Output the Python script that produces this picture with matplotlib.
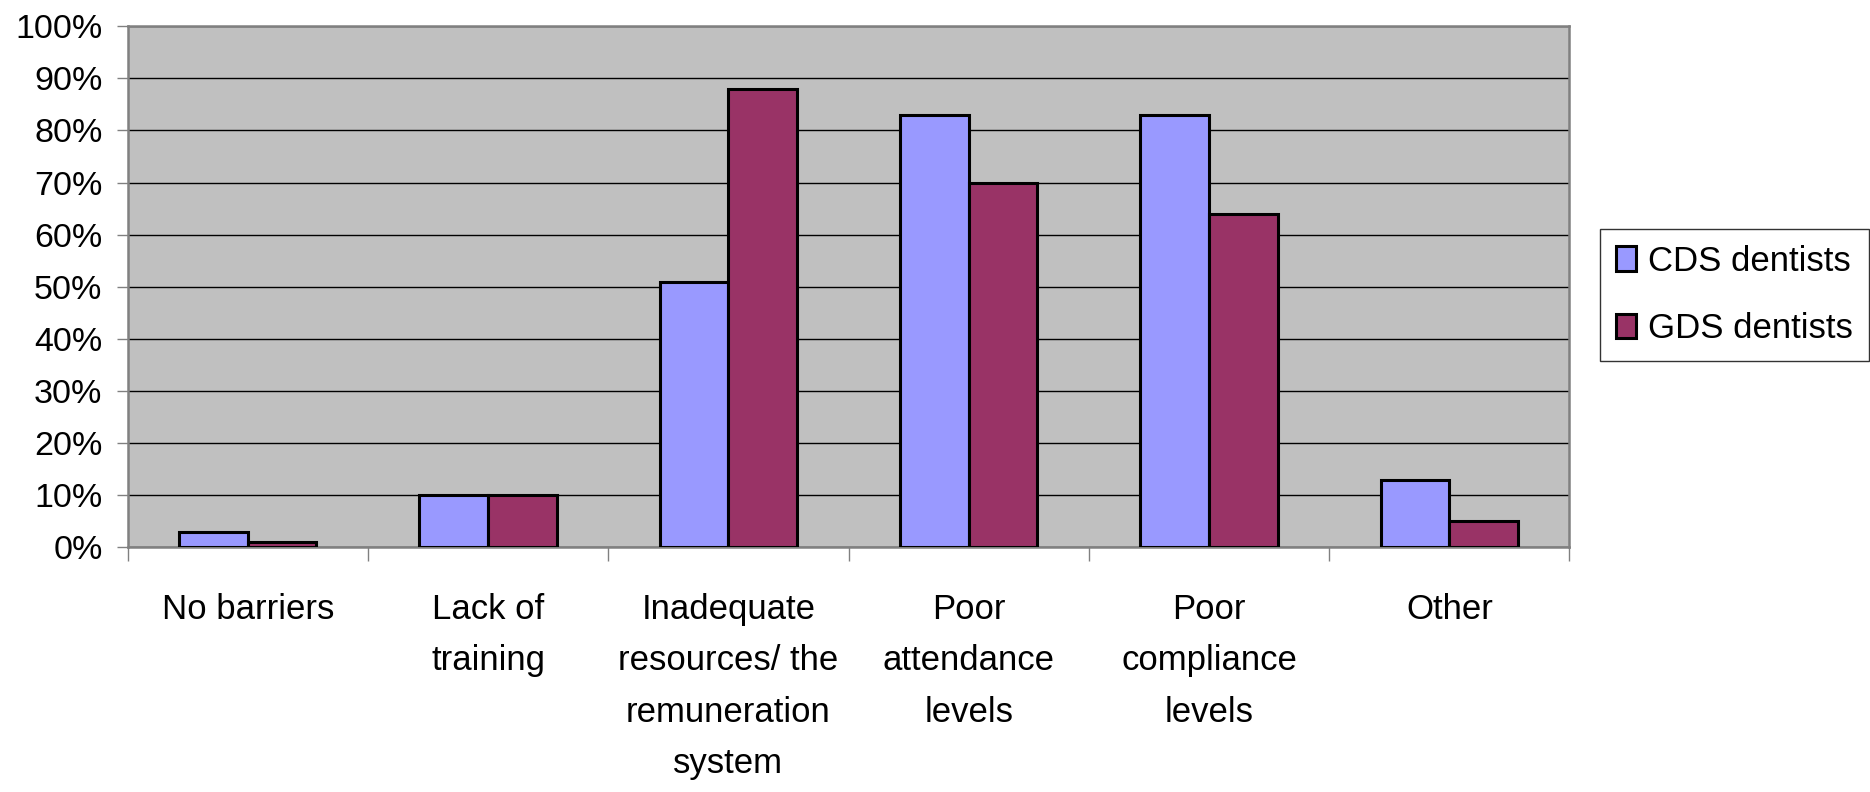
import numpy as np
import matplotlib
matplotlib.use("Agg")
import matplotlib.pyplot as plt
from matplotlib import font_manager

categories = ["No barriers", "Lack of\ntraining", "Inadequate\nresources/ the\nremuneration\nsystem",
              "Poor\nattendance\nlevels", "Poor\ncompliance\nlevels", "Other"]
cds = [3, 10, 51, 83, 83, 13]
gds = [1, 10, 88, 70, 64, 5]
series_names = ["CDS dentists", "GDS dentists"]
yticks = [0, 10, 20, 30, 40, 50, 60, 70, 80, 90, 100]

C = {"cds": "#9999FF", "gds": "#993366", "bg": "#C0C0C0", "frame": "#808080"}
FONT = "Liberation Sans"

fig = plt.figure(figsize=(18.7, 7.92), dpi=100)
ax = fig.add_axes([0.0682, 0.3088, 0.8393 - 0.0682, 0.967 - 0.3088])
ax.set_facecolor(C["bg"])

x = np.arange(len(categories))
w = 1 / 3.5  # excel gap width 150%
ax.bar(x - w / 2, cds, w, color=C["cds"], edgecolor="black", linewidth=2.2, label=series_names[0], zorder=3)
ax.bar(x + w / 2, gds, w, color=C["gds"], edgecolor="black", linewidth=2.2, label=series_names[1], zorder=3)

ax.set_xlim(-0.5, len(categories) - 0.5)
ax.set_ylim(0, 100)
ax.set_yticks(yticks)
ax.set_yticklabels([f"{v}%" for v in yticks], family=FONT, fontsize=24.5)
ax.yaxis.grid(True, color="black", linewidth=1.0, zorder=1)
ax.set_axisbelow(True)
ax.tick_params(axis="y", length=8, width=1, color=C["frame"], pad=10)

# boundary ticks between categories, labels at centres
ax.set_xticks(np.arange(len(categories) + 1) - 0.5)
ax.set_xticklabels([])
ax.tick_params(axis="x", which="major", length=10, width=1, color=C["frame"])
ax.set_xticks(x, minor=True)
ax.set_xticklabels(categories, minor=True, family=FONT, fontsize=25, linespacing=1.7, va="top")
ax.tick_params(axis="x", which="minor", length=0, pad=33)

for s in ax.spines.values():
    s.set_color(C["frame"])
    s.set_linewidth(1.8)

leg = fig.legend(loc="center left", bbox_to_anchor=(0.8558, 0.6275), frameon=True, fancybox=False,
                 prop={"family": FONT, "size": 25}, handlelength=0.58, handleheight=0.7,
                 handletextpad=0.35, labelspacing=1.0, borderpad=0.45, borderaxespad=0)
leg.get_frame().set_edgecolor("black")
leg.get_frame().set_linewidth(1.0)

fig.savefig("out.png", dpi=100)
